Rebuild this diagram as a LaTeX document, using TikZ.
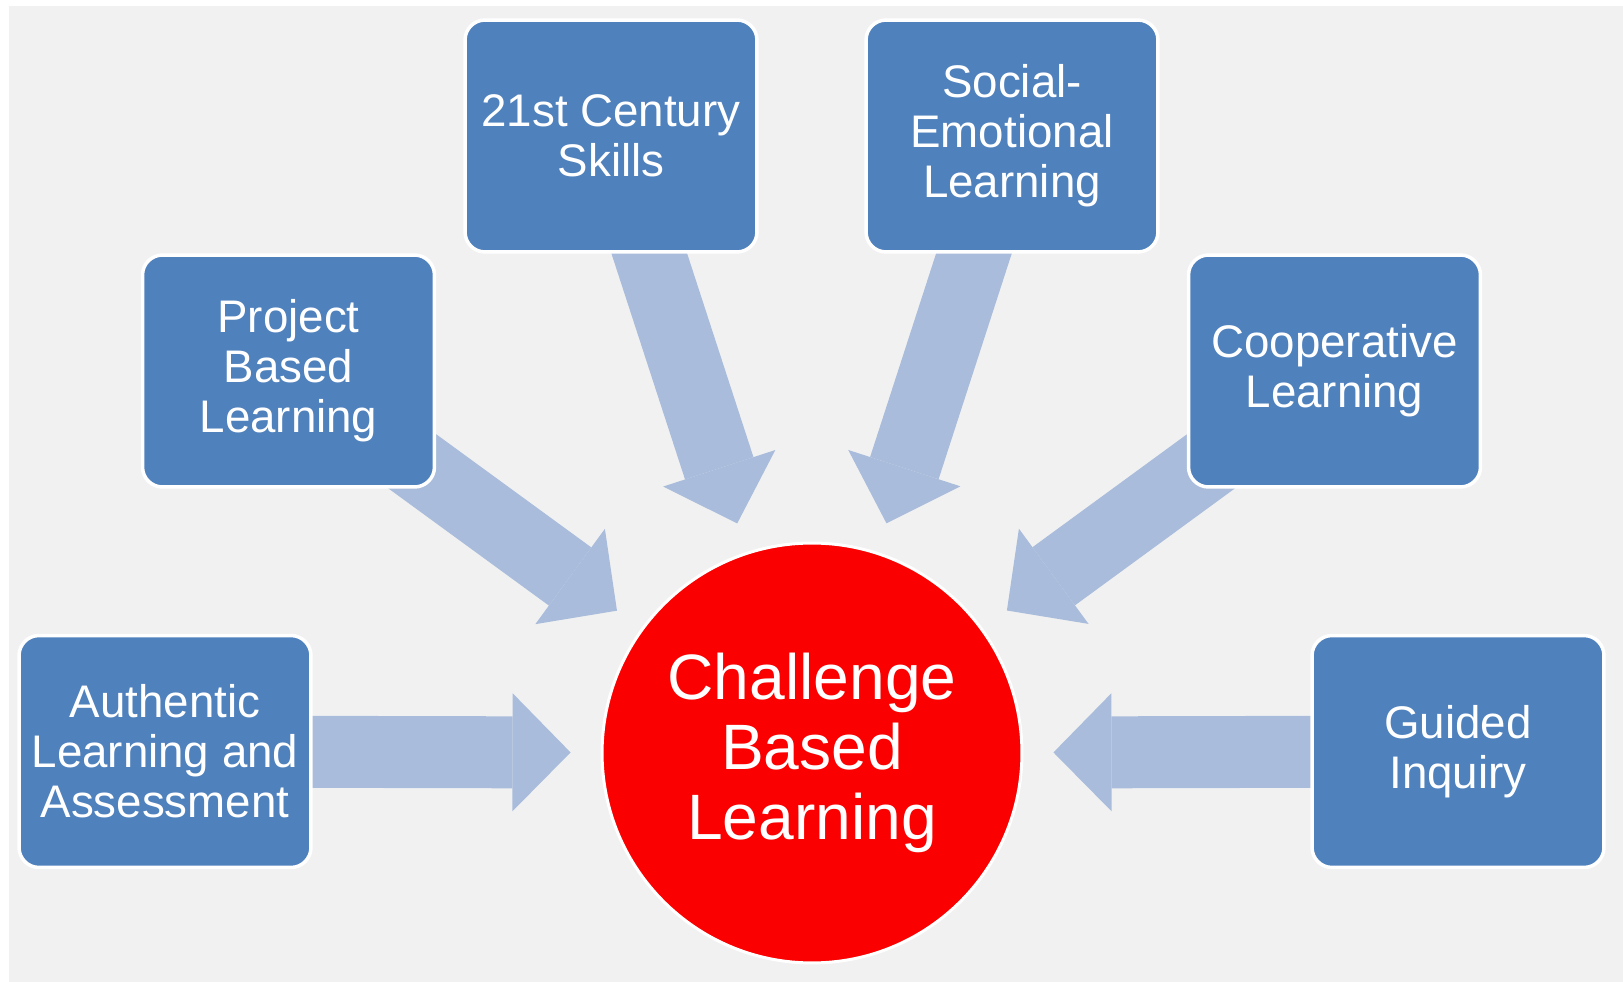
\documentclass[tikz,border=0pt]{standalone}
\usepackage{fontspec}
\setmainfont{Liberation Sans}
\usetikzlibrary{arrows.meta}
\definecolor{boxblue}{RGB}{79,129,189}
\definecolor{feedblue}{RGB}{169,188,219}
\definecolor{paper}{RGB}{241,241,241}
\definecolor{hubred}{RGB}{250,0,0}
\pgfdeclarelayer{paperlayer}
\pgfdeclarelayer{feedlayer}
\pgfsetlayers{paperlayer,feedlayer,main}

\begin{document}
\begin{tikzpicture}[x=0.02cm,y=-0.02cm,
    topic/.style={rectangle,rounded corners=0.4cm,fill=boxblue,draw=white,line width=0.07cm,
      minimum width=5.84cm,minimum height=4.64cm,text=white,align=center,
      font=\fontsize{26}{28.5}\selectfont},
    hub/.style={circle,fill=hubred,draw=white,line width=0.06cm,minimum size=8.4cm,
      text=white,align=center,font=\fontsize{36.5}{40}\selectfont},
    feed/.style={draw=feedblue,line width=1.44cm,
      -{Triangle[length=1.16cm,width=2.36cm,line width=0pt]},
      shorten >=0.6cm}]
  \useasboundingbox (0,0) rectangle (1623,982);
  \begin{pgfonlayer}{paperlayer}
    \fill[white] (0,0) rectangle (1623,982);
    \fill[paper] (9,6) rectangle (1623,982);
  \end{pgfonlayer}

  \node[hub] (cbl) at (812,753) {Challenge\\Based\\Learning};

  % the six approaches feeding into it
  \node[topic] (skills) at (611,136) {21st Century\\Skills};
  \node[topic] (sel) at (1012,136) {Social-\\Emotional\\Learning};
  \node[topic] (pbl) at (288.5,371) {Project\\Based\\Learning};
  \node[topic] (coop) at (1334.5,371) {Cooperative\\Learning};
  \node[topic] (auth) at (165,751.5) {Authentic\\Learning and\\Assessment};
  \node[topic] (inq) at (1458,751.5) {Guided\\Inquiry};

  % arrows start under the boxes
  \begin{pgfonlayer}{feedlayer}
    \foreach \src in {skills,sel,pbl,coop,auth,inq}
      \draw[feed] (\src.center) -- (cbl);
  \end{pgfonlayer}
\end{tikzpicture}
\end{document}
